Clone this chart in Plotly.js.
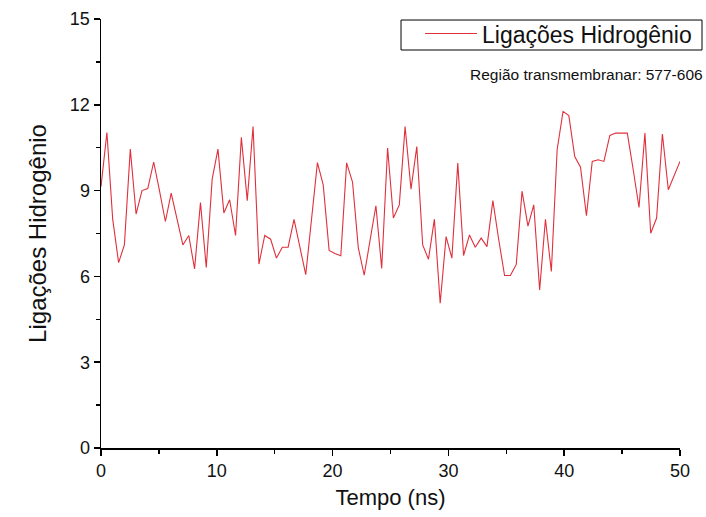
<!DOCTYPE html>
<html>
<head>
<meta charset="utf-8">
<script src="https://cdn.plot.ly/plotly-3.0.1.min.js"></script>
<style>html,body{margin:0;padding:0;background:#fff;}#chart{width:706px;height:517px;}</style>
</head>
<body>
<div id="chart"></div>
<script>
const tempo = [0,0.51,1.01,1.52,2.02,2.53,3.03,3.54,4.04,4.55,5.05,5.56,6.06,6.57,7.07,7.58,8.08,8.59,9.09,9.60,
10.10,10.61,11.11,11.62,12.12,12.63,13.13,13.64,14.14,14.65,15.15,15.66,16.16,16.67,17.17,17.68,18.18,18.69,19.19,19.70,
20.20,20.71,21.21,21.72,22.22,22.73,23.23,23.74,24.24,24.75,25.25,25.76,26.26,26.77,27.27,27.78,28.28,28.79,29.29,29.80,
30.30,30.81,31.31,31.82,32.32,32.83,33.33,33.84,34.34,34.85,35.35,35.86,36.36,36.87,37.37,37.88,38.38,38.89,39.39,39.90,
40.40,40.91,41.41,41.92,42.42,42.93,43.43,43.94,44.44,44.95,45.45,45.96,46.46,46.97,47.47,47.98,48.48,48.99,49.49,50];

const ligacoes = [9.14,11.03,8.0,6.48,7.1,10.45,8.18,9.0,9.07,10.0,9.0,7.92,8.91,8.0,7.1,7.43,6.26,8.58,6.31,9.4,
10.45,8.22,8.68,7.43,10.86,8.65,11.24,6.43,7.43,7.3,6.64,7.02,7.02,7.99,7.0,6.06,8.0,9.98,9.2,6.91,
6.8,6.72,9.97,9.3,7.0,6.04,7.25,8.47,6.28,10.49,8.04,8.5,11.24,9.05,10.54,7.1,6.6,8.0,5.06,7.39,
6.64,9.96,6.73,7.45,7.02,7.34,7.04,8.65,7.3,6.03,6.03,6.42,8.98,7.76,8.5,5.53,8.0,6.17,10.43,11.77,
11.62,10.19,9.82,8.12,10.02,10.08,10.02,10.93,11.01,11.01,11.01,9.73,8.41,11.01,7.51,8.04,10.98,9.03,9.52,10.02];

const serieNome = 'Ligações Hidrogênio';
const xTitulo = 'Tempo (ns)';
const yTitulo = 'Ligações Hidrogênio';
const nota = 'Região transmembranar: 577-606';
const xTicks = [0,10,20,30,40,50];
const yTicks = [0,3,6,9,12,15];

const font = 'Liberation Sans, Arial, sans-serif';

const trace = {
  x: tempo, y: ligacoes, type: 'scatter', mode: 'lines', name: serieNome,
  line: {color: '#e0303c', width: 1.1}
};

const axisCommon = {
  showgrid: false, zeroline: false, showline: true, linecolor: '#000', linewidth: 1.5,
  ticks: 'outside', ticklen: 6, tickwidth: 1.5, tickcolor: '#000',
  tickfont: {family: font, size: 18, color: '#111'},
  minor: {ticks: 'outside', ticklen: 4, tickwidth: 1.3, tickcolor: '#000', showgrid: false}
};

const layout = {
  width: 706, height: 517,
  margin: {l: 101, r: 4, t: 5, b: 69},
  paper_bgcolor: '#fff', plot_bgcolor: '#fff',
  showlegend: true,
  xaxis: Object.assign({}, axisCommon, {
    domain: [0, 0.9634],
    range: [0, 50], tickvals: xTicks, ticktext: xTicks.map(String),
    minor: Object.assign({}, axisCommon.minor, {dtick: 5, tick0: 0}),
    title: {text: xTitulo, font: {family: font, size: 22, color: '#111'}, standoff: 9}
  }),
  yaxis: Object.assign({}, axisCommon, {
    domain: [0, 0.9684],
    range: [0, 15], tickvals: yTicks, ticktext: yTicks.map(String),
    minor: Object.assign({}, axisCommon.minor, {dtick: 1.5, tick0: 0}),
    title: {text: yTitulo, font: {family: font, size: 24, color: '#111'}, standoff: 16}
  }),
  legend: {
    x: 0.5308, xanchor: 'left', y: 0.984, yanchor: 'top',
    borderwidth: 0, bgcolor: 'rgba(0,0,0,0)',
    font: {family: font, size: 23, color: '#111'},
    itemwidth: 52, tracegroupgap: 0
  },
  shapes: [{
    type: 'rect', xref: 'paper', yref: 'paper',
    x0: 0.4992, x1: 1.0, y0: 0.8984, y1: 0.9661,
    line: {color: '#000', width: 1}, fillcolor: 'rgba(0,0,0,0)', layer: 'above'
  }],
  annotations: [{
    text: nota, xref: 'paper', yref: 'paper', x: 1.005, y: 0.844,
    xanchor: 'right', yanchor: 'middle', showarrow: false,
    font: {family: font, size: 15.5, color: '#111'}
  }]
};

Plotly.newPlot('chart', [trace], layout, {displayModeBar: false, staticPlot: true});
</script>
</body>
</html>
